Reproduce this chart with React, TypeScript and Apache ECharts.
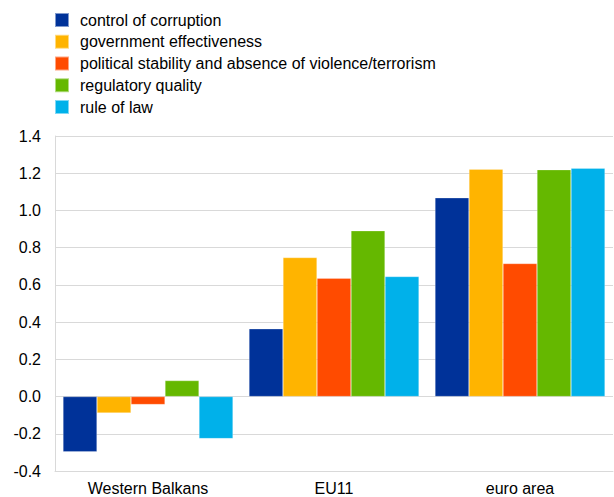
import React, { useEffect, useRef } from "react";
import * as echarts from "echarts";

const categories = ["Western Balkans", "EU11", "euro area"];
const seriesNames = [
  "control of corruption",
  "government effectiveness",
  "political stability and absence of violence/terrorism",
  "regulatory quality",
  "rule of law",
];
const controlOfCorruption = [-0.297, 0.364, 1.068];
const governmentEffectiveness = [-0.088, 0.747, 1.222];
const politicalStability = [-0.043, 0.636, 0.715];
const regulatoryQuality = [0.086, 0.891, 1.219];
const ruleOfLaw = [-0.226, 0.645, 1.227];
const colors = ["#003299", "#FFB400", "#FF4B00", "#65B800", "#00B1EA"];

export default function App() {
  const ref = useRef<HTMLDivElement>(null);
  useEffect(() => {
    if (!ref.current) return;
    const chart = echarts.init(ref.current, null, { renderer: "svg" });
    const values = [
      controlOfCorruption,
      governmentEffectiveness,
      politicalStability,
      regulatoryQuality,
      ruleOfLaw,
    ];
    const font = "Arial, Liberation Sans, sans-serif";
    chart.setOption({
      animation: false,
      color: colors,
      textStyle: { fontFamily: font },
      legend: {
        orient: "vertical",
        left: 49,
        top: 7,
        itemWidth: 14,
        itemHeight: 14,
        itemGap: 5.75,
        icon: "rect",
        data: seriesNames,
        textStyle: {
          fontSize: 16,
          lineHeight: 14,
          color: "#000",
          fontFamily: font,
          padding: [0, 0, 0, 6],
        },
      },
      grid: { left: 55, right: 1, top: 136, bottom: 26, containLabel: false },
      xAxis: {
        type: "category",
        data: categories,
        axisLine: { onZero: false, show: true, lineStyle: { color: "#d9d9d9" } },
        axisTick: { show: false },
        axisLabel: { fontSize: 16, color: "#000", fontFamily: font, margin: 9 },
      },
      yAxis: {
        type: "value",
        min: -0.4,
        max: 1.4,
        interval: 0.2,
        axisLine: { show: true, lineStyle: { color: "#d9d9d9" } },
        axisTick: { show: false },
        splitLine: { lineStyle: { color: "#d9d9d9", width: 1 } },
        axisLabel: {
          fontSize: 16,
          color: "#000",
          fontFamily: font,
          margin: 14,
          formatter: (v: number) => v.toFixed(1),
        },
      },
      series: seriesNames.map((name, i) => ({
        name,
        type: "bar",
        data: values[i],
        barGap: "0%",
        barCategoryGap: "8.6%",
        itemStyle: { color: colors[i], borderColor: "rgba(255,255,255,0.5)", borderWidth: 0.5 },
      })),
    });
    return () => chart.dispose();
  }, []);
  return (
    <div
      ref={ref}
      style={{ position: "fixed", left: 0, top: 0, width: 614, height: 497, background: "#fff" }}
    />
  );
}
